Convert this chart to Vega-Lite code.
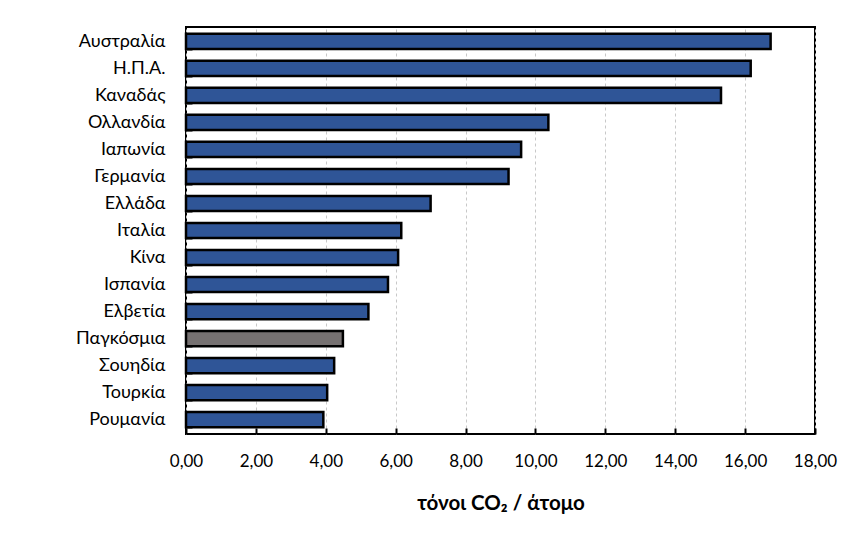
{
  "$schema": "https://vega.github.io/schema/vega-lite/v6.json",
  "autosize": "none",
  "width": 629,
  "height": 407,
  "padding": {"left": 186, "top": 27, "right": 43, "bottom": 113},
  "background": "white",
  "data": {
    "values": [
      {"country": "Αυστραλία", "value": 16.73, "type": "country"},
      {"country": "Η.Π.Α.", "value": 16.16, "type": "country"},
      {"country": "Καναδάς", "value": 15.31, "type": "country"},
      {"country": "Ολλανδία", "value": 10.37, "type": "country"},
      {"country": "Ιαπωνία", "value": 9.59, "type": "country"},
      {"country": "Γερμανία", "value": 9.23, "type": "country"},
      {"country": "Ελλάδα", "value": 7.0, "type": "country"},
      {"country": "Ιταλία", "value": 6.16, "type": "country"},
      {"country": "Κίνα", "value": 6.07, "type": "country"},
      {"country": "Ισπανία", "value": 5.78, "type": "country"},
      {"country": "Ελβετία", "value": 5.22, "type": "country"},
      {"country": "Παγκόσμια", "value": 4.49, "type": "world"},
      {"country": "Σουηδία", "value": 4.24, "type": "country"},
      {"country": "Τουρκία", "value": 4.04, "type": "country"},
      {"country": "Ρουμανία", "value": 3.93, "type": "country"}
    ]
  },
  "config": {
    "view": {"stroke": "black", "strokeWidth": 2},
    "font": "Lato"
  },
  "mark": {"type": "bar", "stroke": "black", "strokeWidth": 2.5},
  "encoding": {
    "y": {
      "field": "country",
      "type": "nominal",
      "sort": null,
      "scale": {"paddingInner": 0.44, "paddingOuter": 0.25},
      "axis": {
        "title": null,
        "domain": false,
        "tickBand": "extent",
        "tickSize": -6,
        "tickColor": "black",
        "tickWidth": 2,
        "labelFontSize": 18,
        "labelColor": "black",
        "labelPadding": 27,
        "grid": false
      }
    },
    "x": {
      "field": "value",
      "type": "quantitative",
      "scale": {"domain": [0, 18], "nice": false},
      "axis": {
        "values": [0, 2, 4, 6, 8, 10, 12, 14, 16, 18],
        "format": ".2f",
        "labelExpr": "replace(datum.label, '.', ',')",
        "title": "τόνοι CO₂ / άτομο",
        "titleFontSize": 20.5,
        "titleFontWeight": "bold",
        "titleColor": "black",
        "titlePadding": 24,
        "domain": false,
        "tickSize": -6,
        "tickColor": "black",
        "tickWidth": 2,
        "labelFontSize": 17,
        "labelColor": "black",
        "labelPadding": 25,
        "labelFlush": false,
        "grid": true,
        "gridColor": "#c8c8c8",
        "gridDash": [3, 3],
        "gridWidth": 1
      }
    },
    "color": {
      "field": "type",
      "type": "nominal",
      "scale": {"domain": ["country", "world"], "range": ["#2F5597", "#767171"]},
      "legend": null
    }
  }
}
